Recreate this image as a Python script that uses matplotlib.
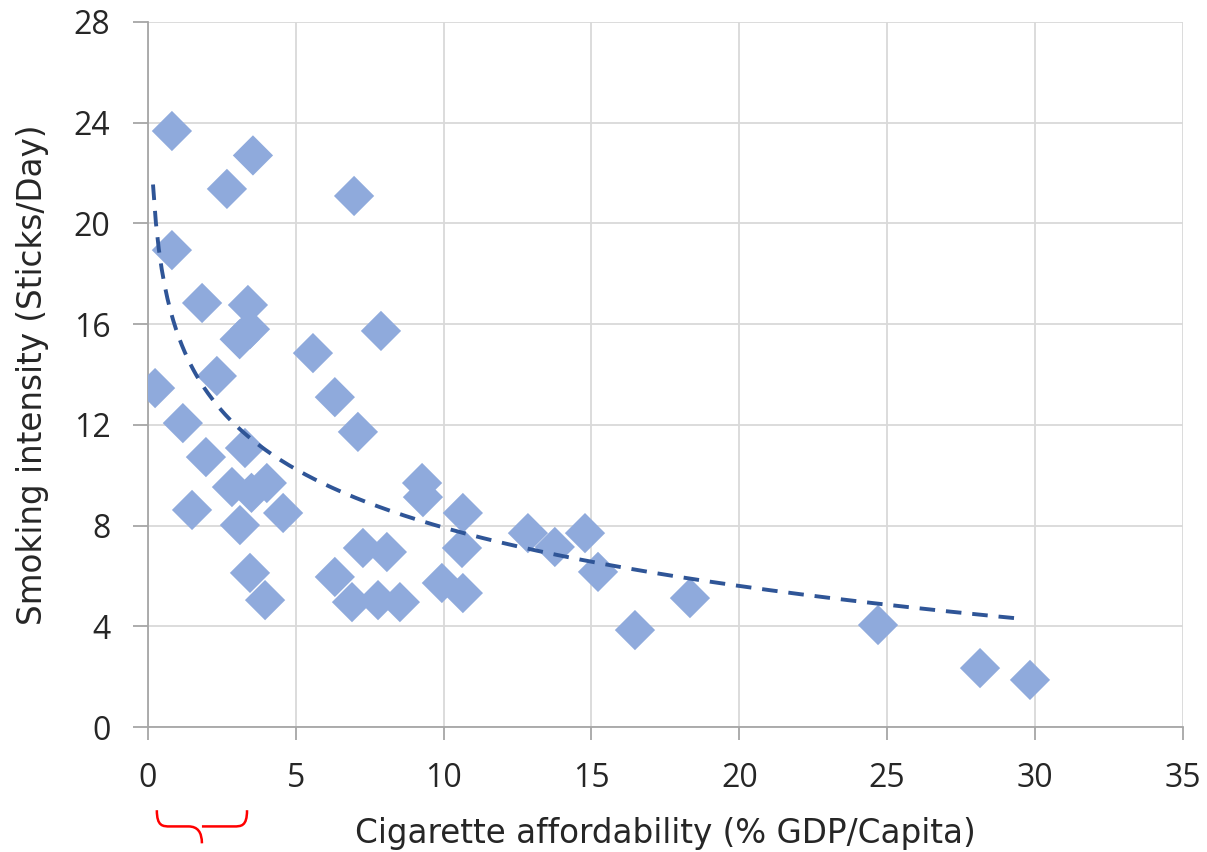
import numpy as np
import matplotlib.pyplot as plt
from matplotlib.path import Path
from matplotlib.patches import PathPatch
import matplotlib.transforms as mtransforms

plt.rcParams['font.family'] = ['Open Sans', 'DejaVu Sans']

# affordability (% GDP/capita) vs smoking intensity (sticks/day)
affordability = [0.24, 0.81, 0.81, 3.55, 2.67, 6.97, 1.83, 3.38, 3.10, 3.45,
                 7.88, 5.58, 2.33, 6.32, 1.18, 7.10, 3.28, 1.96, 2.84, 3.50,
                 4.02, 1.49, 3.11, 4.57, 3.45, 3.96, 9.27, 9.30, 10.65, 10.62,
                 7.27, 8.08, 6.32, 6.90, 7.78, 8.52, 9.94, 10.65, 12.85, 13.76,
                 14.78, 15.22, 16.47, 18.33, 24.69, 28.14, 29.83]
intensity = [13.46, 23.67, 18.94, 22.70, 21.37, 21.09, 16.84, 16.76, 15.40, 15.80,
             15.73, 14.85, 13.94, 13.10, 12.07, 11.72, 11.08, 10.72, 9.53, 9.30,
             9.69, 8.62, 8.02, 8.50, 6.12, 5.04, 9.69, 9.13, 8.50, 7.11,
             7.11, 6.95, 5.96, 4.96, 5.04, 4.96, 5.72, 5.32, 7.70, 7.15,
             7.70, 6.16, 3.85, 5.12, 4.05, 2.34, 1.87]

# logarithmic trend line y = a + b*ln(x), as shown on the chart
trend_a = 15.62
trend_b = -3.344
trend_start = 0.17
trend_end = 29.4

x = np.array(affordability)
y = np.array(intensity)

fig = plt.figure(figsize=(12.07, 8.52), dpi=100)
ax = fig.add_axes([0.1226, 0.1467, 0.8574, 0.8275])

ax.scatter(x, y, marker='D', s=20.5**2, color='#8FAADC', edgecolors='none', zorder=3)

xt = np.linspace(trend_start, trend_end, 300)
ax.plot(xt, trend_a + trend_b * np.log(xt), color='#2F5597', lw=2.8,
        ls=(0, (4, 2.8)), zorder=4)

ax.set_xlim(0, 35)
ax.set_ylim(0, 28)
ax.set_xticks(range(0, 36, 5))
ax.set_yticks(range(0, 29, 4))
ax.grid(True, color='#D9D9D9', lw=1.3)
ax.set_axisbelow(True)
for s in ['top', 'right']:
    ax.spines[s].set_visible(False)
for s in ['left', 'bottom']:
    ax.spines[s].set_color('#A6A6A6')
    ax.spines[s].set_linewidth(1.3)
ax.tick_params(colors='#A6A6A6', width=1.3, labelsize=23, labelcolor='#262626')
ax.tick_params(axis='x', length=9, pad=16)
ax.tick_params(axis='y', length=11, pad=16)
lab_font = dict(family=['DejaVu Sans'], fontsize=23.5, color='#262626')
ax.set_xlabel('Cigarette affordability (% GDP/Capita)', labelpad=16, **lab_font)
ax.set_ylabel('Smoking intensity (Sticks/Day)', labelpad=18, **lab_font)

# red brace under the low-affordability range
trans = mtransforms.blended_transform_factory(ax.transData, ax.transAxes)
x0, x1 = 0.3, 3.35
xm = (x0 + x1) / 2
yt, ym, yb = -0.118, -0.141, -0.165
verts = [(x0, yt), (x0, ym), (x0 + 0.2, ym), (x0 + 0.45, ym),
         (xm - 0.45, ym), (xm, ym), (xm, yb),
         (xm, ym), (xm + 0.45, ym),
         (x1 - 0.45, ym), (x1 - 0.2, ym), (x1, ym), (x1, yt)]
codes = [Path.MOVETO, Path.CURVE4, Path.CURVE4, Path.CURVE4,
         Path.LINETO, Path.CURVE3, Path.CURVE3,
         Path.MOVETO, Path.LINETO,
         Path.LINETO, Path.CURVE4, Path.CURVE4, Path.CURVE4]
ax.add_patch(PathPatch(Path(verts, codes), transform=trans, fill=False,
                       edgecolor='red', lw=1.8, clip_on=False))

fig.savefig('out.png', dpi=100)
